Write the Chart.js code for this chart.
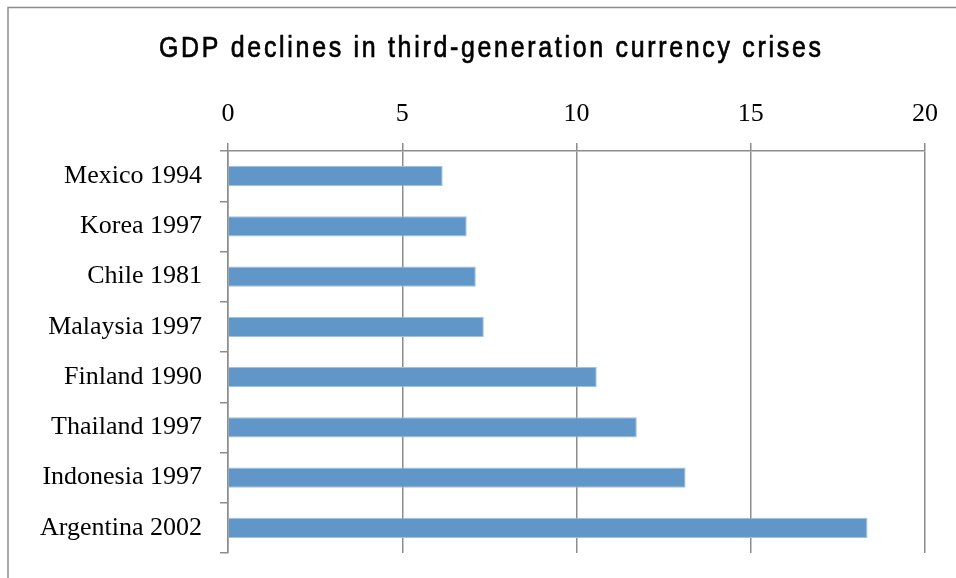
<!DOCTYPE html>
<html>
<head>
<meta charset="utf-8">
<script src="https://cdn.jsdelivr.net/npm/chart.js@4"></script>
<style>
  html, body { margin: 0; padding: 0; background: #ffffff; }
  #wrap { width: 956px; height: 578px; position: relative; }
</style>
</head>
<body>
<div id="wrap"><canvas id="c" width="956" height="578"></canvas></div>
<script>
const titleText = 'GDP declines in third-generation currency crises';
const categories = ['Mexico 1994', 'Korea 1997', 'Chile 1981', 'Malaysia 1997', 'Finland 1990', 'Thailand 1997', 'Indonesia 1997', 'Argentina 2002'];
const gdpDecline = [6.16, 6.85, 7.11, 7.34, 10.58, 11.73, 13.13, 18.35];
const xTicks = [0, 5, 10, 15, 20];

const frameAndTitle = {
  id: 'frameAndTitle',
  beforeDraw(chart) {
    const ctx = chart.ctx;
    ctx.save();
    ctx.fillStyle = '#ffffff';
    ctx.fillRect(0, 0, chart.width, chart.height);
    ctx.strokeStyle = '#8c8c8c';
    ctx.lineWidth = 1.5;
    ctx.beginPath();
    ctx.moveTo(8, chart.height + 2);
    ctx.lineTo(8, 7.5);
    ctx.lineTo(chart.width + 2, 7.5);
    ctx.stroke();
    ctx.restore();
  },
  afterDraw(chart) {
    const ctx = chart.ctx;
    ctx.save();
    ctx.font = '29px "Liberation Sans", Arial, sans-serif';
    ctx.fillStyle = '#000000';
    ctx.strokeStyle = '#000000';
    ctx.lineWidth = 0.7;
    ctx.textBaseline = 'alphabetic';
    ctx.textAlign = 'left';
    const squeeze = 0.86;
    const targetW = 662 / squeeze;
    ctx.letterSpacing = '0px';
    const w0 = ctx.measureText(titleText).width;
    const ls = Math.max(0, (targetW - w0) / (titleText.length - 1));
    ctx.letterSpacing = ls.toFixed(2) + 'px';
    ctx.translate(159, 57);
    ctx.scale(squeeze, 1);
    ctx.fillText(titleText, 0, 0);
    ctx.strokeText(titleText, 0, 0);
    ctx.restore();
  }
};

new Chart(document.getElementById('c'), {
  type: 'bar',
  data: {
    labels: categories,
    datasets: [{
      data: gdpDecline,
      backgroundColor: '#6196c8',
      borderColor: '#a2c0e0',
      borderWidth: 1,
      barPercentage: 0.4,
      categoryPercentage: 1.0
    }]
  },
  options: {
    indexAxis: 'y',
    responsive: false,
    animation: false,
    devicePixelRatio: 1,
    layout: { padding: { top: 64, left: 0, right: 31, bottom: 25 } },
    plugins: {
      legend: { display: false },
      title: { display: false },
      tooltip: { enabled: false }
    },
    scales: {
      x: {
        position: 'top',
        min: 0,
        max: 20,
        afterBuildTicks(scale) { scale.ticks = xTicks.map(v => ({ value: v })); },
        afterFit(scale) { scale.height = 87; },
        ticks: {
          padding: 13,
          color: '#000000',
          font: { family: '"Liberation Serif", "Times New Roman", serif', size: 26 },
          maxRotation: 0
        },
        grid: {
          color: '#8c8c8c',
          lineWidth: 1.5,
          tickLength: 8,
          drawTicks: true
        },
        border: { display: true, color: '#8c8c8c', width: 1.5 }
      },
      y: {
        afterFit(scale) {
          scale.width = 228;
          scale.paddingTop = 0;
          scale.paddingBottom = 0;
        },
        ticks: {
          padding: 18,
          color: '#000000',
          font: { family: '"Liberation Serif", "Times New Roman", serif', size: 26 }
        },
        grid: {
          offset: true,
          drawOnChartArea: false,
          color: '#8c8c8c',
          lineWidth: 1.5,
          tickLength: 8
        },
        border: { display: true, color: '#8c8c8c', width: 1.5 }
      }
    }
  },
  plugins: [frameAndTitle]
});
</script>
</body>
</html>
